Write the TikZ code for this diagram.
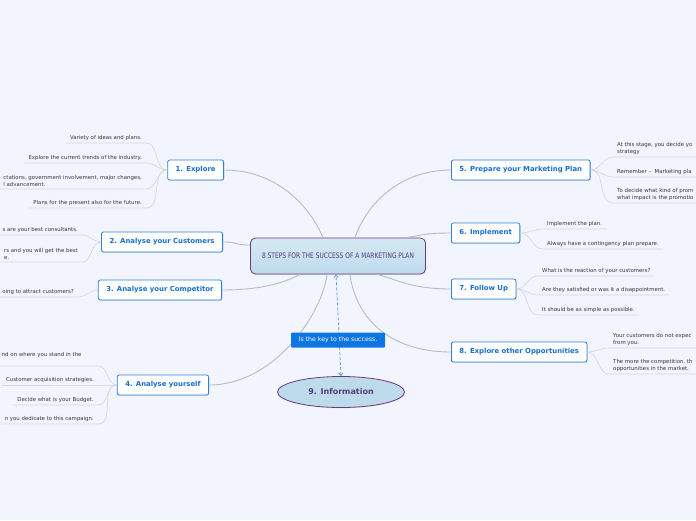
\documentclass[tikz,border=0pt]{standalone}
\usepackage{fontspec}
\setmainfont{DejaVu Sans}
\newfontfamily\titlefont[FakeStretch=0.78]{DejaVu Sans}
\usepackage{tikz}
\usetikzlibrary{arrows.meta, shapes.geometric, shadows}
\definecolor{pagebg}{RGB}{243, 245, 254}
\definecolor{stepblue}{RGB}{22, 112, 212}
\definecolor{stepline}{RGB}{45, 128, 218}
\definecolor{centretop}{RGB}{214, 233, 244}
\definecolor{centrefill}{RGB}{190, 219, 236}
\definecolor{centreline}{RGB}{108, 58, 128}
\definecolor{centretext}{RGB}{88, 60, 122}
\definecolor{keyblue}{RGB}{14, 118, 226}
\definecolor{branchgray}{RGB}{186, 186, 192}
\definecolor{twiggray}{RGB}{212, 212, 218}
\definecolor{leaftext}{RGB}{55, 55, 60}

\tikzset{
  stepbox/.style={draw=stepline, line width=0.8pt, fill=white,
    rounded corners=2pt, inner xsep=8pt, minimum height=20pt,
    font=\fontsize{6.9}{8}\selectfont\bfseries, text=stepblue,
    drop shadow={shadow xshift=0.6pt, shadow yshift=-0.8pt, opacity=0.25}},
  leaf/.style={font=\fontsize{5.4}{7}\selectfont, text=leaftext,
    inner xsep=4pt, inner ysep=2pt, align=left},
  branch/.style={draw=branchgray, line width=0.9pt},
  twig/.style={draw=twiggray, line width=0.6pt},
}

\begin{document}
\begin{tikzpicture}[x=1pt, y=-1pt]
  % page
  \fill[pagebg] (0,0) rectangle (696,520);
  \clip (0,0) rectangle (696,520);

  % centre topic
  \node[draw=centreline, line width=0.8pt, rounded corners=5pt,
        top color=centretop, bottom color=centrefill,
        minimum width=175pt, minimum height=36pt,
        font=\titlefont\fontsize{7.6}{9}\selectfont, text=centretext,
        drop shadow={shadow xshift=0.5pt, shadow yshift=-0.8pt, opacity=0.2}]
    (title) at (338,256) {8 STEPS FOR THE SUCCESS OF A MARKETING PLAN};

  % the eight steps
  \node[stepbox, anchor=east] (explore) at (224,170) {1. Explore};
  \node[stepbox, anchor=east] (customers) at (223,242) {2. Analyse your Customers};
  \node[stepbox, anchor=east] (competitor) at (222,290) {3. Analyse your Competitor};
  \node[stepbox, anchor=east] (yourself) at (209,385) {4. Analyse yourself};
  \node[stepbox, anchor=west] (prepare) at (451,170) {5. Prepare your Marketing Plan};
  \node[stepbox, anchor=west] (implement) at (451,233) {6. Implement};
  \node[stepbox, anchor=west] (followup) at (451,289) {7. Follow Up};
  \node[stepbox, anchor=west] (opportunities) at (451,352) {8. Explore other Opportunities};

  % information
  \node[ellipse, draw=centreline, line width=0.8pt, fill=centrefill,
        minimum width=127pt, minimum height=31pt, inner sep=0pt,
        font=\fontsize{8}{9}\selectfont\bfseries, text=centretext,
        drop shadow={shadow xshift=0.5pt, shadow yshift=-0.8pt, opacity=0.2}]
    (info) at (341,392) {9. Information};

  % branches from the centre
  \draw[branch] (explore.east) .. controls +(50,0) and +(-15,-35) .. ([xshift=-15pt]title.north);
  \draw[branch] (customers.east) .. controls +(15,0) and +(-15,0) .. ([yshift=11pt]title.west);
  \draw[branch] (competitor.east) .. controls +(40,0) and +(-15,8) .. ([xshift=-38pt]title.south);
  \draw[branch] (yourself.east) .. controls +(65,0) and +(-5,40) .. ([xshift=-11pt]title.south);
  \draw[branch] (prepare.west) .. controls +(-50,0) and +(12,-35) .. ([xshift=17pt]title.north);
  \draw[branch] (implement.west) .. controls +(-25,0) and +(20,-3) .. ([xshift=68pt]title.north);
  \draw[branch] (followup.west) .. controls +(-40,0) and +(20,5) .. ([xshift=39pt]title.south);
  \draw[branch] (opportunities.west) .. controls +(-65,0) and +(5,40) .. ([xshift=12pt]title.south);

  % relation to information
  \draw[keyblue!75, line width=0.7pt, dash pattern=on 3pt off 2pt,
        {Straight Barb[length=2.5pt, width=4pt]}-{Straight Barb[length=2.5pt, width=4pt]}]
    (info.north) -- ([xshift=-2pt]title.south);
  \node[fill=keyblue, rounded corners=1pt, minimum width=94pt, minimum height=15pt,
        font=\fontsize{6.2}{7}\selectfont, text=white]
    (key) at (338,340) {Is the key to the success.};

  % 1. explore
  \node[leaf, anchor=south east] (e1) at (146,143) {Variety of ideas and plans.};
  \node[leaf, anchor=south east] (e2) at (146,163) {Explore the current trends of the industry.};
  \node[leaf, anchor=south east] (e3) at (146,189) {ctations, government involvement, major changes,\\l advancement.};
  \node[leaf, anchor=south east] (e4) at (146,208) {Plans for the present also for the future.};
  \foreach \n in {e1,e2,e3,e4}
    \draw[twig] (\n.south west) -- (\n.south east) to[out=0, in=180] (explore.west);

  % 2. customers
  \node[leaf, anchor=south east] (c1) at (82,235) {s are your best consultants.};
  \node[leaf, anchor=south east] (c2) at (82,262) {rs and you will get the best\\e.};
  \foreach \n in {c1,c2}
    \draw[twig] (\n.south west) -- (\n.south east) to[out=0, in=180] (customers.west);

  % 3. competitor
  \node[leaf, anchor=south east] (k1) at (78,297) {oing to attract customers?};
  \draw[twig] (k1.south west) -- (k1.south east) to[out=0, in=180] (competitor.west);

  % 4. yourself
  \node[leaf, anchor=south east, text width=92pt] (y1) at (98,366) {nd on where you stand in the\\ \mbox{}};
  \node[leaf, anchor=south east] (y2) at (98,385) {Customer acquisition strategies.};
  \node[leaf, anchor=south east] (y3) at (98,405) {Decide what is your Budget.};
  \node[leaf, anchor=south east] (y4) at (98,424) {n you dedicate to this campaign.};
  \foreach \n in {y1,y2,y3,y4}
    \draw[twig] (\n.south west) -- (\n.south east) to[out=0, in=180] (yourself.west);

  % 5. prepare
  \node[leaf, anchor=south west] (p1) at (613,157) {At this stage, you decide yo\\strategy};
  \node[leaf, anchor=south west] (p2) at (613,177) {Remember --\ \ Marketing pla};
  \node[leaf, anchor=south west] (p3) at (613,203) {To decide what kind of prom\\what impact is the promotio};
  \foreach \n in {p1,p2,p3}
    \draw[twig] (\n.south east) -- (\n.south west) to[out=180, in=0] (prepare.east);

  % 6. implement
  \node[leaf, anchor=south west] (i1) at (543,229) {Implement the plan.};
  \node[leaf, anchor=south west] (i2) at (543,249) {Always have a contingency plan prepare.};
  \foreach \n in {i1,i2}
    \draw[twig] (\n.south east) -- (\n.south west) to[out=180, in=0] (implement.east);

  % 7. follow up
  \node[leaf, anchor=south west] (f1) at (538,276) {What is the reaction of your customers?};
  \node[leaf, anchor=south west] (f2) at (538,295) {Are they satisfied or was it a disappointment.};
  \node[leaf, anchor=south west] (f3) at (538,315) {It should be as simple as possible.};
  \foreach \n in {f1,f2,f3}
    \draw[twig] (\n.south east) -- (\n.south west) to[out=180, in=0] (followup.east);

  % 8. opportunities
  \node[leaf, anchor=south west] (o1) at (609,348) {Your customers do not expec\\from you.};
  \node[leaf, anchor=south west] (o2) at (609,374) {The more the competition, th\\opportunities in the market.};
  \foreach \n in {o1,o2}
    \draw[twig] (\n.south east) -- (\n.south west) to[out=180, in=0] (opportunities.east);
\end{tikzpicture}
\end{document}
